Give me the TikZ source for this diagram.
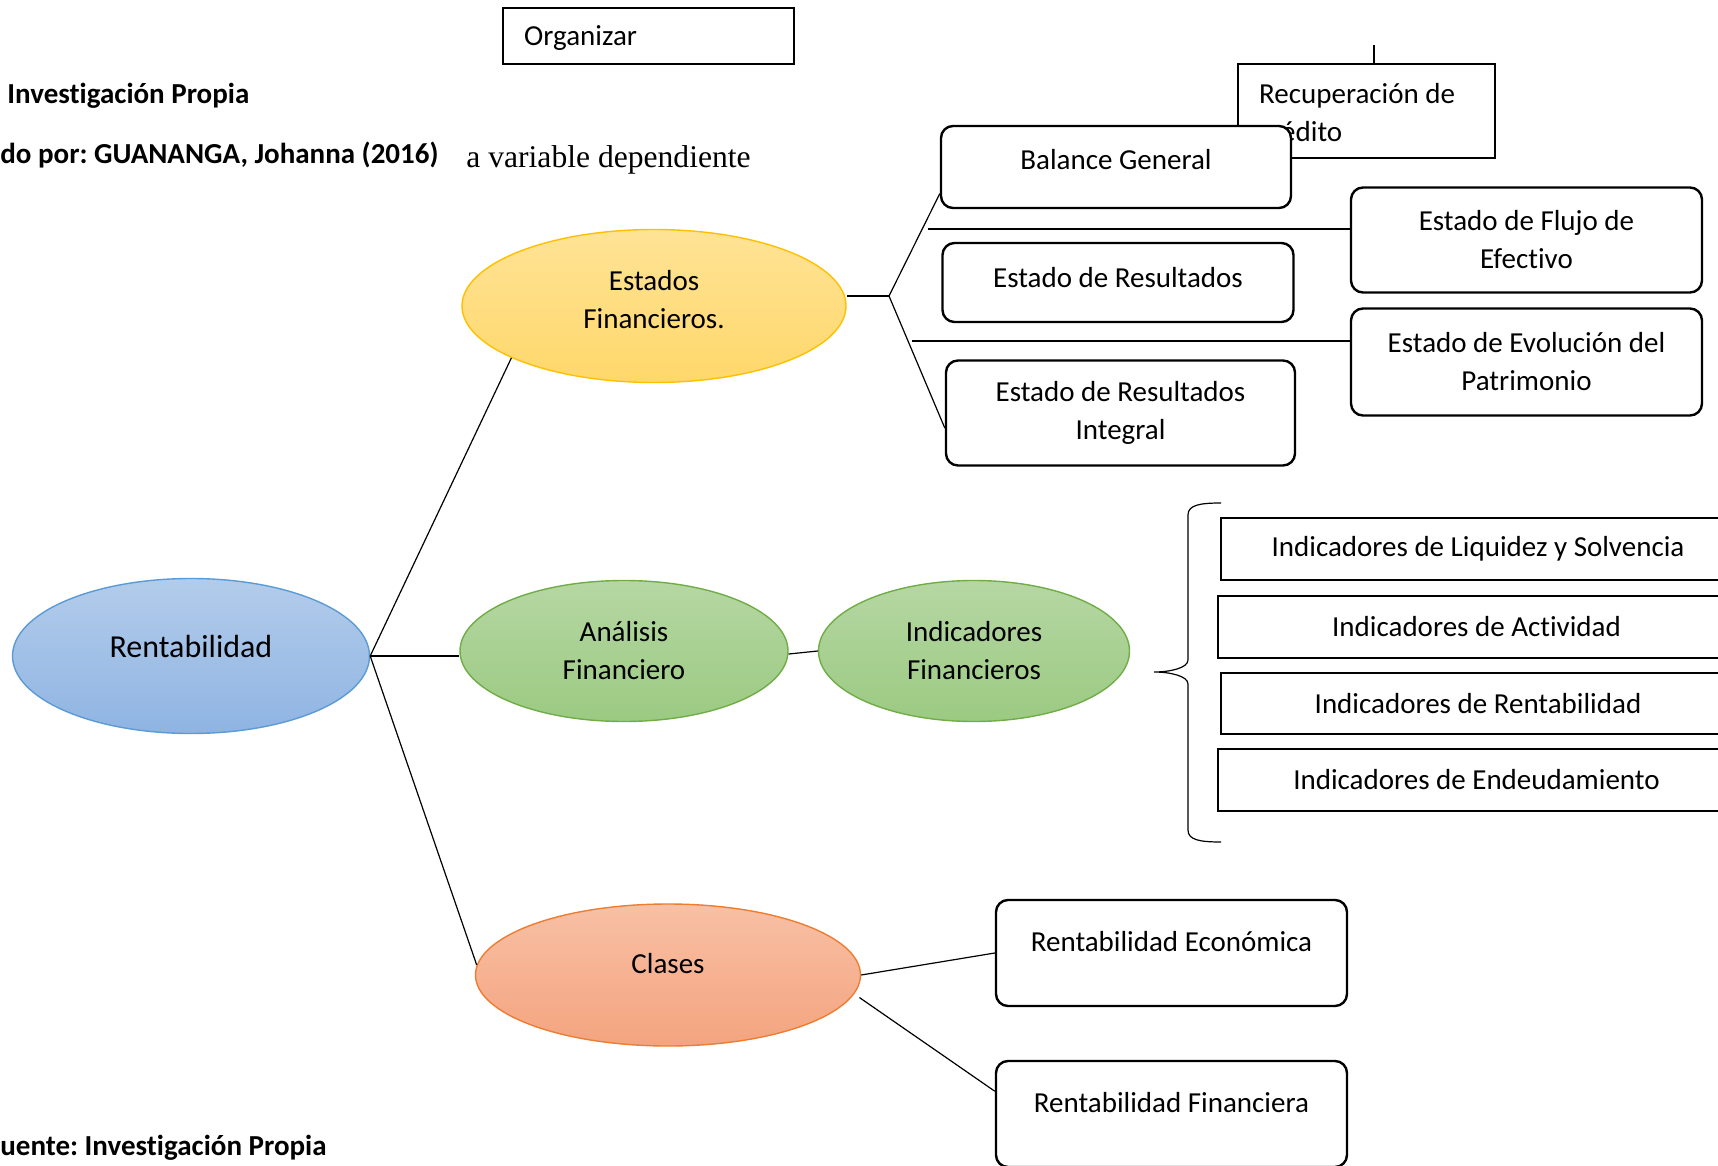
\documentclass[tikz,border=0pt]{standalone}
\usepackage{fontspec}
\setmainfont{Carlito}[Ligatures=NoCommon]
\newfontfamily\timesfont{Liberation Serif}
\usetikzlibrary{shapes.geometric,calc}
\frenchspacing

\definecolor{blueTop}{HTML}{B3CCEB}
\definecolor{blueBot}{HTML}{8FB4E2}
\definecolor{blueLine}{HTML}{5B9BD5}
\definecolor{greenTop}{HTML}{B6D7A3}
\definecolor{greenBot}{HTML}{9BCA82}
\definecolor{greenLine}{HTML}{70AD47}
\definecolor{yelTop}{HTML}{FFE396}
\definecolor{yelBot}{HTML}{FFD86B}
\definecolor{yelLine}{HTML}{FFC000}
\definecolor{orTop}{HTML}{F8C0A5}
\definecolor{orBot}{HTML}{F4A47F}
\definecolor{orLine}{HTML}{ED7D31}

\begin{document}
\begin{tikzpicture}[x=0.5pt,y=-0.5pt,
  every node/.style={font=\fontsize{14.5}{19}\selectfont},
  ell/.style={ellipse, inner sep=0, line width=0.7pt, align=center},
  rbox/.style={draw, rounded corners=6pt, line width=1.2pt, fill=white, inner sep=0, align=center},
  sbox/.style={draw, line width=1.2pt, fill=white, inner sep=0, align=center},
  txt/.style={inner sep=0, align=center},
  conn/.style={line width=0.6pt},
]
\useasboundingbox (0,0) rectangle (1718,1166);

% side captions
\node[txt, anchor=west, font=\fontsize{14.5}{19}\selectfont\bfseries] (cap1) at (7,96) {Investigación Propia};
\node[txt, anchor=west, font=\fontsize{14.5}{19}\selectfont\bfseries] (cap2) at (0,155) {do por: GUANANGA, Johanna (2016)};
\node[txt, anchor=west, font=\fontsize{15.8}{19}\timesfont] (cap3) at (466,160) {a variable dependiente};
\node[txt, anchor=west, font=\fontsize{14.5}{19}\selectfont\bfseries] (cap4) at (0,1148) {uente: Investigación Propia};

% top boxes
\node[sbox, minimum width=145.5pt, minimum height=28pt,
  label={[txt, anchor=west, xshift=11pt, yshift=-1pt]west:Organizar}] (org) at (648.5,36) {};
\node[sbox, minimum width=128.5pt, minimum height=47pt,
  label={[txt, align=left, anchor=west, xshift=11pt, yshift=-0.75pt]west:{Recuperación de\\crédito}}] (recup) at (1366.5,111) {};
\coordinate (r0) at (1374,45);
\draw[conn] (r0) -- (r0 |- recup.north);

% financial statements
\node[rbox, minimum width=175pt, minimum height=41pt,
  label={[txt, yshift=3.5pt]center:Balance General}] (balance) at (1116,167) {};
\node[rbox, minimum width=175.5pt, minimum height=52.5pt] (flujo) at (1526.5,240) {Estado de Flujo de\\Efectivo};
\node[rbox, minimum width=175.5pt, minimum height=39.5pt,
  label={[txt, yshift=2.5pt]center:Estado de Resultados}] (result) at (1118,282.5) {};
\node[rbox, minimum width=175.5pt, minimum height=53.5pt] (evol) at (1526.5,362) {Estado de Evolución del\\Patrimonio};
\node[rbox, minimum width=174.5pt, minimum height=52.5pt] (integral) at (1120.5,413) {Estado de Resultados\\Integral};

% ellipses
\node[ell, draw=blueLine, top color=blueTop, bottom color=blueBot,
  minimum width=178.5pt, minimum height=77.5pt,
  label={[txt, yshift=4.5pt, font=\fontsize{16}{19}\selectfont]center:Rentabilidad}] (rent) at (191,656) {};
\node[ell, draw=yelLine, top color=yelTop, bottom color=yelBot,
  minimum width=192pt, minimum height=76.5pt,
  label={[txt, yshift=3pt]center:{Estados\\Financieros.}}] (estados) at (654,306) {};
\node[ell, draw=greenLine, top color=greenTop, bottom color=greenBot,
  minimum width=164pt, minimum height=70.5pt] (anal) at (624,651) {Análisis\\Financiero};
\node[ell, draw=greenLine, top color=greenTop, bottom color=greenBot,
  minimum width=155.5pt, minimum height=70.5pt] (indic) at (974,651) {Indicadores\\Financieros};
\node[ell, draw=orLine, top color=orTop, bottom color=orBot,
  minimum width=192.5pt, minimum height=71pt,
  label={[txt, yshift=5.5pt]center:Clases}] (clases) at (668,975) {};

% indicator boxes
\node[sbox, minimum width=257pt, minimum height=31pt] (ind1) at (1478,549) {Indicadores de Liquidez y Solvencia};
\node[sbox, minimum width=258.5pt, minimum height=31pt] (ind2) at (1476.5,627) {Indicadores de Actividad};
\node[sbox, minimum width=257pt, minimum height=30.5pt] (ind3) at (1478,703.5) {Indicadores de Rentabilidad};
\node[sbox, minimum width=258.5pt, minimum height=31pt] (ind4) at (1476.5,780) {Indicadores de Endeudamiento};

% classes of profitability
\node[rbox, minimum width=175.5pt, minimum height=53pt,
  label={[txt, yshift=5.5pt]center:Rentabilidad Económica}] (econ) at (1171.5,953) {};
\node[rbox, minimum width=175.5pt, minimum height=53pt,
  label={[txt, yshift=5.5pt]center:Rentabilidad Financiera}] (finan) at (1171.5,1114) {};

% connectors
\draw[conn] (rent.east) -- (estados.200);
\draw[conn] (rent.east) -- (rent.east -| anal.west);
\draw[conn] (rent.east) -- (clases.177);
\draw[conn] ([yshift=-1.5pt]anal.east) -- (indic.west);

\coordinate (jf) at (889,296);
\draw[conn] (jf -| estados.east) -- (jf);
\draw[conn] (jf) -- ($(balance.west)!0.63!(balance.south west)$);
\draw[conn] (jf) -- ($(integral.west)!0.28!(integral.south west)$);
\coordinate (h1) at (928,229);
\draw[conn] (h1) -- (h1 -| flujo.west);
\coordinate (h2) at (912,341);
\draw[conn] (h2) -- (h2 -| evol.west);

\draw[conn] (clases.east) -- (econ.west);
\draw[conn] ([xshift=4pt]clases.-7) -- ($(finan.west)!0.42!(finan.north west)$);

% brace grouping the indicators
\draw[conn] (1221,503) .. controls (1200,503) and (1188,505) .. (1188,515)
  -- (1188,660) .. controls (1188,668) and (1170,672) .. (1154,672)
  .. controls (1170,672) and (1188,676) .. (1188,684)
  -- (1188,830) .. controls (1188,840) and (1200,842) .. (1221,842);
\end{tikzpicture}
\end{document}
